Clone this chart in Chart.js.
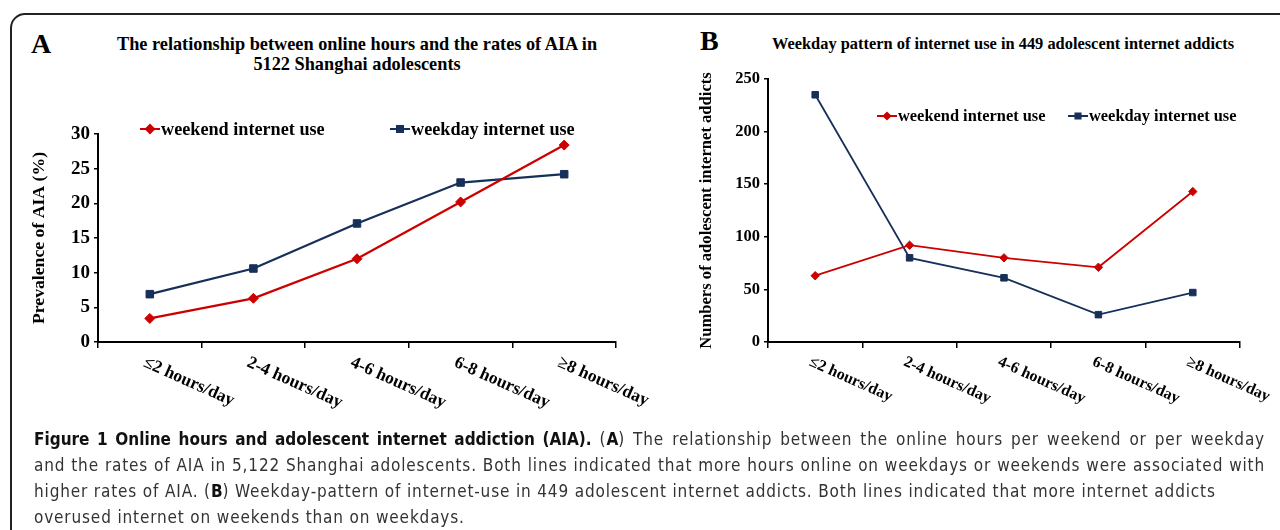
<!DOCTYPE html>
<html lang="en">
<head>
    <meta charset="UTF-8">
    <title>Online hours and adolescent internet addiction</title>
    <script src="https://cdn.jsdelivr.net/npm/chart.js"></script>
    <style>
        body {
            margin: 0;
            background: #fff;
        }
        #page {
            position: relative;
            width: 1280px;
            height: 530px;
            overflow: hidden;
            font-family: "Liberation Serif", "Times New Roman", serif;
        }
        #frame {
            position: absolute;
            left: 10px;
            top: 13px;
            width: 1300px;
            height: 560px;
            border: 2px solid #222;
            border-radius: 15px;
        }
        .letter {
            position: absolute;
            font-weight: bold;
            font-size: 28px;
            line-height: 28px;
            color: #000;
        }
        .title {
            position: absolute;
            font-weight: bold;
            text-align: center;
            color: #000;
            white-space: nowrap;
        }
        canvas {
            position: absolute;
        }
        #caption {
            position: absolute;
            left: 34px;
            top: 426px;
            width: 1231px;
            font-family: "Liberation Sans Narrow", "DejaVu Sans Condensed", "Open Sans", sans-serif;
            font-size: 17px;
            line-height: 26px;
            letter-spacing: 0.85px;
            color: #333;
            white-space: nowrap;
        }
        #caption .just {
            text-align: justify;
            text-align-last: justify;
            white-space: normal;
        }
        #caption b {
            color: #111;
            letter-spacing: 0;
        }
    </style>
</head>
<body>
<div id="page">
    <div id="frame"></div>
    <div class="letter" style="left:31px; top:30px;">A</div>
    <div class="title" style="left:97px; top:34px; width:520px; font-size:18.3px; line-height:20px;">The relationship between online hours and the rates of AIA in<br>5122 Shanghai adolescents</div>
    <div class="letter" style="left:700px; top:27px;">B</div>
    <div class="title" style="left:753px; top:34px; width:500px; font-size:16.4px; line-height:20px;">Weekday pattern of internet use in 449 adolescent internet addicts</div>

    <canvas id="chartA" width="690" height="330" style="left:0; top:100px;"></canvas>
    <canvas id="chartB" width="590" height="390" style="left:690px; top:40px;"></canvas>

    <div id="caption">
        <div class="just"><b>Figure 1 Online hours and adolescent internet addiction (AIA).</b> (<b>A</b>) The relationship between the online hours per weekend or per weekday</div>
        <div class="just">and the rates of AIA in 5,122 Shanghai adolescents. Both lines indicated that more hours online on weekdays or weekends were associated with</div>
        <div>higher rates of AIA. (<b>B</b>) Weekday-pattern of internet-use in 449 adolescent internet addicts. Both lines indicated that more internet addicts</div>
        <div>overused internet on weekends than on weekdays.</div>
    </div>
</div>

<script>
    const categories = ["≤2 hours/day", "2-4 hours/day", "4-6 hours/day", "6-8 hours/day", "≥8 hours/day"];
    const seriesNames = ["weekend internet use", "weekday internet use"];

    // panel A: prevalence of AIA (%)
    const aWeekend = [3.4, 6.3, 12.0, 20.2, 28.4];
    const aWeekday = [6.9, 10.6, 17.1, 23.0, 24.2];

    // panel B: numbers of adolescent internet addicts
    const bWeekend = [63, 92, 80, 71, 143];
    const bWeekday = [235, 80, 61, 26, 47];

    const RED = "#cc0000";
    const NAVY = "#17305a";
    const SERIF = "'Liberation Serif', 'Times New Roman', serif";

    // x labels slanted downwards to the right, starting at each category
    const slantLabels = {
        id: "slantLabels",
        afterDraw(chart, args, opts) {
            const xs = chart.scales.x;
            const ctx = chart.ctx;
            ctx.save();
            ctx.font = "bold " + opts.size + "px " + SERIF;
            ctx.fillStyle = "#000";
            ctx.textAlign = "left";
            ctx.textBaseline = "top";
            xs.ticks.forEach((t, i) => {
                const px = xs.getPixelForTick(i);
                ctx.save();
                ctx.translate(px - 2, xs.top + opts.gap);
                ctx.rotate(opts.angle * Math.PI / 180);
                ctx.fillText(chart.data.labels[i], 0, 0);
                ctx.restore();
            });
            ctx.restore();
        }
    };

    // legend drawn inside the plot area
    const innerLegend = {
        id: "innerLegend",
        afterDraw(chart, args, opts) {
            const ctx = chart.ctx;
            ctx.save();
            ctx.font = "bold " + opts.size + "px " + SERIF;
            ctx.textBaseline = "middle";
            ctx.textAlign = "left";
            chart.data.datasets.forEach((ds, i) => {
                const x = opts.x[i], y = opts.y;
                ctx.strokeStyle = ds.borderColor;
                ctx.fillStyle = ds.backgroundColor;
                ctx.lineWidth = 2;
                ctx.beginPath();
                ctx.moveTo(x, y);
                ctx.lineTo(x + 20, y);
                ctx.stroke();
                Chart.helpers.drawPoint(ctx, {
                    pointStyle: ds.pointStyle,
                    radius: ds.pointRadius - 1,
                    borderWidth: 1
                }, x + 10, y);
                ctx.fillStyle = "#000";
                ctx.fillText(ds.label, x + 21, y + 1);
            });
            ctx.restore();
        }
    };

    function makeChart(id, weekend, weekday, opt) {
        const ctx = document.getElementById(id).getContext("2d");
        return new Chart(ctx, {
            type: "line",
            data: {
                labels: categories,
                datasets: [{
                    label: seriesNames[0],
                    data: weekend,
                    borderColor: RED,
                    backgroundColor: RED,
                    borderWidth: opt.lineWidth,
                    pointStyle: "rectRot",
                    pointRadius: opt.diamond,
                    pointBorderWidth: 1,
                    tension: 0
                }, {
                    label: seriesNames[1],
                    data: weekday,
                    borderColor: NAVY,
                    backgroundColor: NAVY,
                    borderWidth: opt.lineWidth,
                    pointStyle: "rect",
                    pointRadius: opt.square,
                    pointBorderWidth: 1,
                    tension: 0
                }]
            },
            options: {
                responsive: false,
                animation: false,
                layout: { padding: opt.padding },
                plugins: {
                    legend: { display: false },
                    tooltip: { enabled: false },
                    innerLegend: opt.legend,
                    slantLabels: opt.labels
                },
                scales: {
                    x: {
                        offset: true,
                        grid: { offset: true, drawOnChartArea: false, tickLength: 6, color: "#000", lineWidth: 1.5 },
                        border: { color: "#000", width: 2 },
                        ticks: { display: false },
                        afterFit(scale) { scale.height = opt.xHeight; }
                    },
                    y: {
                        min: 0,
                        max: opt.max,
                        grid: { drawOnChartArea: false, tickLength: 4, color: "#000", lineWidth: 1.5 },
                        border: { color: "#000", width: 2 },
                        ticks: {
                            stepSize: opt.step,
                            color: "#000",
                            padding: 4,
                            font: { family: SERIF, size: opt.tickSize, weight: "bold" }
                        },
                        title: {
                            display: true,
                            text: opt.yTitle,
                            color: "#000",
                            padding: { top: opt.titlePad, bottom: 0 },
                            font: { family: SERIF, size: opt.titleSize, weight: "bold" }
                        },
                        afterFit(scale) { scale.width = opt.yWidth; }
                    }
                }
            },
            plugins: [slantLabels, innerLegend]
        });
    }

    makeChart("chartA", aWeekend, aWeekday, {
        max: 30, step: 5,
        yTitle: "Prevalence of AIA (%)",
        tickSize: 19, titleSize: 17.7,
        yWidth: 98, titlePad: 29, xHeight: 88,
        padding: { top: 34, right: 74, left: 0, bottom: 0 },
        lineWidth: 2.3, diamond: 5, square: 5.3,
        legend: { x: [140, 390], y: 29, size: 18.2 },
        labels: { size: 17.5, angle: 24, gap: 12 }
    });

    makeChart("chartB", bWeekend, bWeekday, {
        max: 250, step: 50,
        yTitle: "Numbers of adolescent internet addicts",
        tickSize: 16.5, titleSize: 16.6,
        yWidth: 78, titlePad: 7, xHeight: 88,
        padding: { top: 39, right: 40, left: 0, bottom: 0 },
        lineWidth: 1.8, diamond: 4.2, square: 4.6,
        legend: { x: [187, 378], y: 76, size: 16.4 },
        labels: { size: 16, angle: 24, gap: 12 }
    });
</script>
</body>
</html>
